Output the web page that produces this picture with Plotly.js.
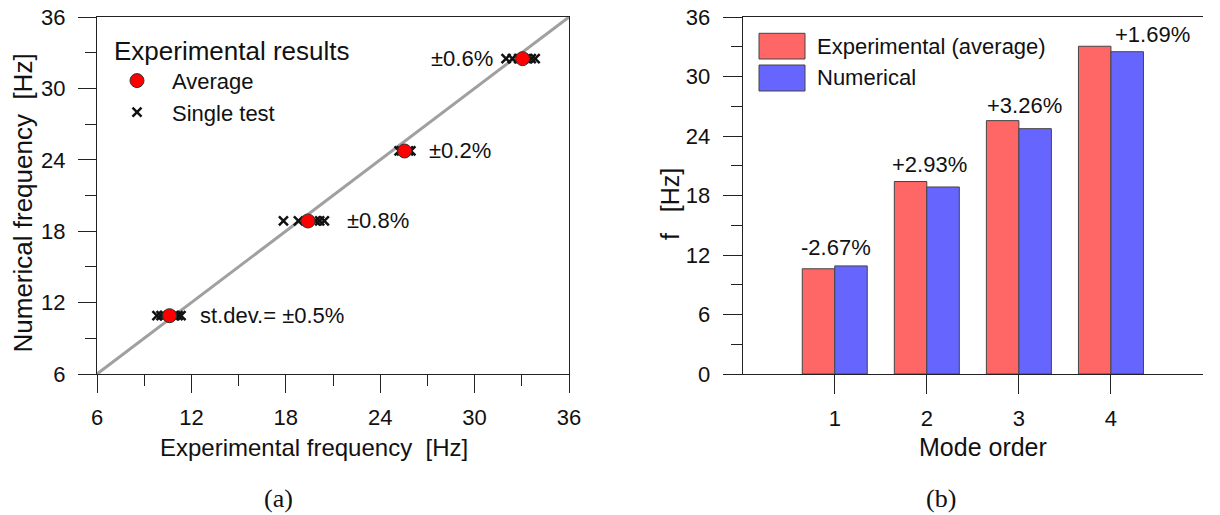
<!DOCTYPE html>
<html>
<head>
<meta charset="utf-8">
<script src="https://cdn.plot.ly/plotly-3.0.1.min.js"></script>
<style>
  html, body { margin: 0; padding: 0; background: #fff; }
  #chart { width: 1220px; height: 515px; }
</style>
</head>
<body>
<div id="chart"></div>
<script>
// Natural frequencies of the first four modes
const modes = [1, 2, 3, 4];
const expAverage = [10.61, 19.41, 25.55, 33.05];   // experimental average [Hz]
const numerical = [10.90, 18.86, 24.74, 32.50];    // numerical model [Hz]
const diffLabels = ['-2.67%', '+2.93%', '+3.26%', '+1.69%'];
const stdevLabels = ['st.dev.= \u00b10.5%', '\u00b10.8%', '\u00b10.2%', '\u00b10.6%'];

// Single tests (experimental frequency), per mode
const singleTests = [
  [9.81, 10.07, 10.32, 10.96, 11.15, 11.34],
  [17.85, 18.80, 19.90, 20.15, 20.45],
  [25.20, 25.35, 25.80, 25.95],
  [32.00, 32.40, 32.80, 33.30, 33.60, 33.85]
];

const refLine = [6, 36];
const font = 'Arial, "Liberation Sans", sans-serif';
const serif = '"Liberation Serif", "Times New Roman", serif';
const tickFont = { family: font, size: 22, color: '#111' };
const W = 1220, H = 515;
const px = v => v / W;          // horizontal pixel -> paper fraction
const py = v => 1 - v / H;      // vertical pixel -> paper fraction

// flatten single tests into x/y pairs (y = numerical value of the mode)
const stX = [], stY = [];
singleTests.forEach((arr, i) => arr.forEach(v => { stX.push(v); stY.push(numerical[i]); }));

const traces = [
  { x: refLine, y: refLine, mode: 'lines', type: 'scatter', xaxis: 'x', yaxis: 'y',
    line: { color: '#a0a0a0', width: 3 }, showlegend: false, hoverinfo: 'skip' },
  { x: stX, y: stY, mode: 'markers', type: 'scatter', xaxis: 'x', yaxis: 'y',
    name: 'Single test', legendrank: 2,
    marker: { symbol: 'x-thin-open', size: 9, color: '#111', line: { color: '#111', width: 2.5 } } },
  { x: expAverage, y: numerical, mode: 'markers', type: 'scatter', xaxis: 'x', yaxis: 'y',
    name: 'Average', legendrank: 1,
    marker: { symbol: 'circle', size: 14, color: '#ff0000', line: { color: '#333', width: 1 } } },
  { x: modes, y: expAverage, type: 'bar', xaxis: 'x2', yaxis: 'y2', name: 'Experimental (average)',
    width: 0.353, offset: -0.353, showlegend: false,
    marker: { color: '#ff6666', line: { color: '#444', width: 1 } } },
  { x: modes, y: numerical, type: 'bar', xaxis: 'x2', yaxis: 'y2', name: 'Numerical',
    width: 0.353, offset: 0, showlegend: false,
    marker: { color: '#6666ff', line: { color: '#444', width: 1 } } }
];

const axisBase = {
  showgrid: false, zeroline: false, showline: true, linecolor: '#222', linewidth: 1,
  ticks: 'outside', tickcolor: '#222', tickwidth: 1, tickfont: tickFont
};

const yDomain = [py(374), py(17)];

const annotations = [];
// standard deviation labels next to each cluster
const stdevPos = [
  { x: 12.45, xanchor: 'left' },
  { x: 21.77, xanchor: 'left' },
  { x: 26.98, xanchor: 'left' },
  { x: 31.30, xanchor: 'right' }
];
stdevLabels.forEach((t, i) => annotations.push({
  xref: 'x', yref: 'y', x: stdevPos[i].x, y: numerical[i], xanchor: stdevPos[i].xanchor,
  yanchor: 'middle', text: t, showarrow: false, font: { family: font, size: 22, color: '#111' }
}));
// percentage differences above the bars
const diffDx = [0.01, 0.03, 0.06, 0.45];
const diffDy = [4, 3, 1, -3];
diffLabels.forEach((t, i) => annotations.push({
  xref: 'x2', yref: 'y2', x: modes[i] + diffDx[i], y: Math.max(expAverage[i], numerical[i]),
  xanchor: 'center', yanchor: 'bottom', yshift: diffDy[i], text: t, showarrow: false,
  font: { family: font, size: 22, color: '#111' }
}));

// paper-positioned text: axis titles, bar legend labels, panel captions
function paperText(text, x, y, opts) {
  annotations.push(Object.assign({
    xref: 'paper', yref: 'paper', x: px(x), y: py(y), xanchor: 'center', yanchor: 'middle',
    text: text, showarrow: false, font: { family: font, size: 24, color: '#111' }
  }, opts || {}));
}
paperText('Experimental frequency\u00a0\u00a0[Hz]', 314, 447);
paperText('Numerical frequency\u00a0\u00a0[Hz]', 22.5, 203, { textangle: -90, font: { family: font, size: 26, color: '#111' } });
paperText('Mode order', 983, 447, { font: { family: font, size: 25, color: '#111' } });
paperText('f\u00a0\u00a0\u00a0[Hz]', 670, 204, { textangle: -90, font: { family: font, size: 25, color: '#111' } });
paperText('Experimental (average)', 815, 46, { xanchor: 'left', font: { family: font, size: 22, color: '#111' } });
paperText('Numerical', 815, 78, { xanchor: 'left', font: { family: font, size: 22, color: '#111' } });
paperText('(a)', 278, 498, { font: { family: serif, size: 26, color: '#111' } });
paperText('(b)', 941, 498, { font: { family: serif, size: 26, color: '#111' } });

const layout = {
  width: W, height: H,
  margin: { l: 0, r: 0, t: 0, b: 0 },
  paper_bgcolor: '#fff', plot_bgcolor: '#fff',
  font: { family: font, color: '#111' },
  showlegend: true,
  legend: {
    x: px(112), y: py(26), xanchor: 'left', yanchor: 'top',
    bgcolor: 'rgba(0,0,0,0)', borderwidth: 0, itemwidth: 60, indentation: -10,
    title: { text: 'Experimental results', font: { family: font, size: 26, color: '#111' } },
    font: { family: font, size: 22, color: '#111' }, traceorder: 'normal'
  },
  xaxis: Object.assign({}, axisBase, {
    domain: [px(97), px(569)], range: [6, 36], tick0: 6, dtick: 6, ticklen: 18,
    minor: { dtick: 3, ticklen: 11, ticks: 'outside', tickcolor: '#222' },
    mirror: true, ticklabelstandoff: 6, anchor: 'y'
  }),
  yaxis: Object.assign({}, axisBase, {
    domain: yDomain, range: [6, 36], tick0: 6, dtick: 6, ticklen: 18,
    minor: { dtick: 3, ticklen: 11, ticks: 'outside', tickcolor: '#222' },
    mirror: true, ticklabelstandoff: 8, anchor: 'x'
  }),
  xaxis2: Object.assign({}, axisBase, {
    domain: [px(742.7), px(1203)], range: [0, 5], tickvals: modes, ticktext: modes.map(String),
    ticklen: 19, mirror: true, ticklabelstandoff: 6, anchor: 'y2'
  }),
  yaxis2: Object.assign({}, axisBase, {
    domain: yDomain, range: [0, 36], tick0: 0, dtick: 6, ticklen: 19,
    minor: { dtick: 3, ticklen: 11, ticks: 'outside', tickcolor: '#222' },
    ticklabelstandoff: 8, anchor: 'x2'
  }),
  barmode: 'overlay',
  // legend swatches for the bar panel
  shapes: [
    { type: 'rect', xref: 'paper', yref: 'paper', x0: px(759), x1: px(805),
      y0: py(59), y1: py(33.3), fillcolor: '#ff6666', line: { color: '#444', width: 1 } },
    { type: 'rect', xref: 'paper', yref: 'paper', x0: px(759), x1: px(805),
      y0: py(91), y1: py(65), fillcolor: '#6666ff', line: { color: '#444', width: 1 } }
  ],
  annotations: annotations
};

Plotly.newPlot('chart', traces, layout, { staticPlot: true, displayModeBar: false });
</script>
</body>
</html>
